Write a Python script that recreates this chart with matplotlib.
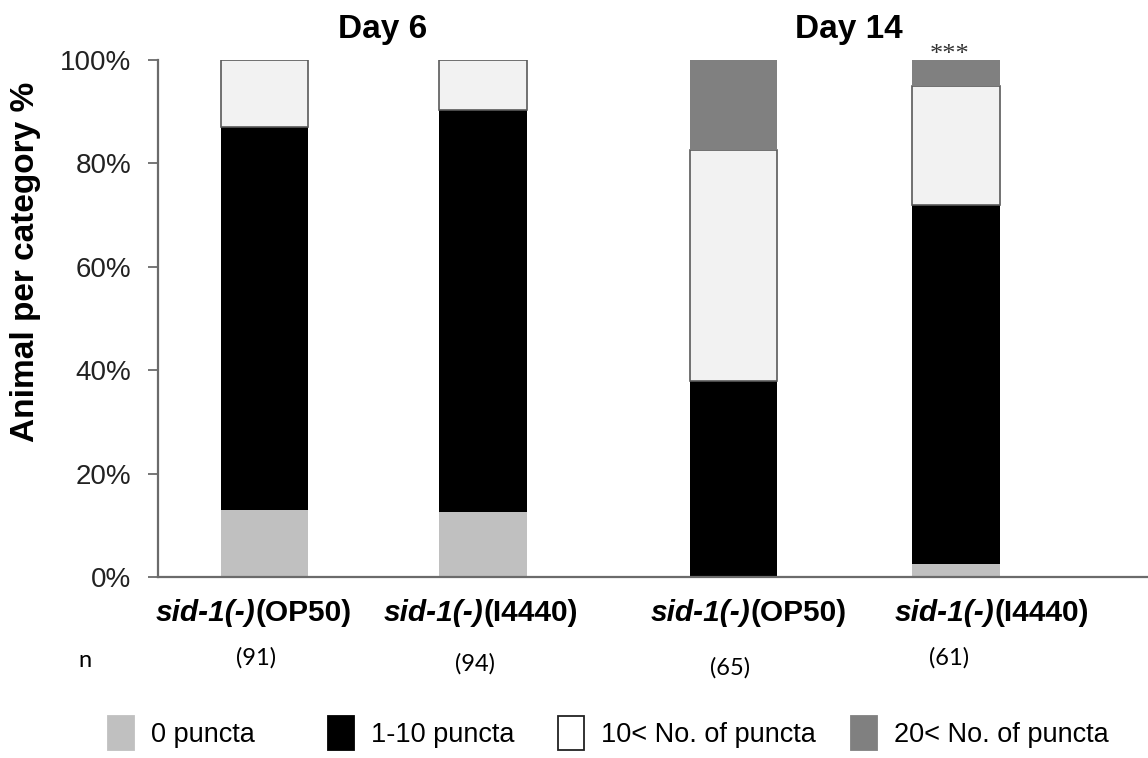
import matplotlib
matplotlib.use('Agg')
import matplotlib.pyplot as plt
import matplotlib.transforms as mtrans
from matplotlib.patches import Patch
import numpy as np

# --- données ---
days = ['Day 6', 'Day 14']
genotype = 'sid-1(-)'
strains = ['(OP50)', '(I4440)', '(OP50)', '(I4440)']
n_animals = ['(91)', '(94)', '(65)', '(61)']

zero_puncta = [13.0, 12.5, 0.0, 2.5]
low_puncta = [74.0, 77.8, 38.0, 69.5]
mid_puncta = [13.0, 9.7, 44.5, 23.0]
high_puncta = [0.0, 0.0, 17.5, 5.0]

categories = ['0 puncta', '1-10 puncta', '10< No. of puncta', '20< No. of puncta']
colors = ['#c0c0c0', '#000000', '#f2f2f2', '#808080']
edges = ['none', 'none', '#5a5a5a', 'none']

plt.rcParams['font.family'] = ['Liberation Sans', 'DejaVu Sans']

W, H = 1148, 758
fig = plt.figure(figsize=(W / 100, H / 100), dpi=100)
ax = fig.add_axes([158 / W, 181 / H, 990 / W, 517 / H])

x = np.array([0, 1, 2.15, 3.17])
width = 0.4
series = [zero_puncta, low_puncta, mid_puncta, high_puncta]
bottom = np.zeros(4)
for vals, col, ec, lab in zip(series, colors, edges, categories):
    vals = np.array(vals)
    ax.bar(x, vals, width, bottom=bottom, color=col, edgecolor=ec,
           linewidth=1.2, label=lab, zorder=2)
    bottom += vals

ax.set_xlim(-0.49, 4.05)
ax.set_ylim(0, 100)
ax.set_yticks([0, 20, 40, 60, 80, 100])
ax.set_yticklabels(['0%', '20%', '40%', '60%', '80%', '100%'], fontsize=20, color='#222222')
ax.tick_params(axis='y', direction='out', length=7, width=1.3, color='#6b6b6b', pad=12)
ax.set_xticks([])
for s in ['top', 'right']:
    ax.spines[s].set_visible(False)
for s in ['left', 'bottom']:
    ax.spines[s].set_color('#6b6b6b')
    ax.spines[s].set_linewidth(1.6)

ax.set_ylabel('Animal per category %', fontsize=24, fontweight='bold')
ax.yaxis.set_label_coords(-0.118, 0.61)

# titres des groupes
ax.text(0.54, 105.9, days[0], ha='center', va='center', fontsize=24, fontweight='bold')
ax.text(2.68, 105.9, days[1], ha='center', va='center', fontsize=24, fontweight='bold')
ax.text(3.14, 101.0, '***', ha='center', va='center', fontsize=19,
        family=['Liberation Serif', 'DejaVu Serif'], color='#333333')

# étiquettes x : génotype en italique gras, souche en gras droit
fig.canvas.draw()
renderer = fig.canvas.get_renderer()
label_x = x + np.array([-0.05, -0.01, 0.07, 0.165])
for xi, st in zip(label_x, strains):
    t1 = ax.text(xi, -6.9, genotype, ha='right', va='center', fontsize=21.5,
                 fontweight='bold', style='italic', clip_on=False)
    t2 = ax.text(xi, -6.9, st, ha='left', va='center', fontsize=21.5,
                 fontweight='bold', clip_on=False)
    w1 = t1.get_window_extent(renderer).width
    w2 = t2.get_window_extent(renderer).width
    shift = (w1 - w2) / 2.0
    for t in (t1, t2):
        t.set_transform(mtrans.offset_copy(ax.transData, fig=fig, x=shift, y=0, units='dots'))

# effectifs
n_x = [-0.04, 0.963, 2.133, 3.138]
n_y = [-15.6, -16.8, -17.5, -15.6]
for xi, yi, n in zip(n_x, n_y, n_animals):
    ax.text(xi, yi, n, ha='center', va='center', fontsize=17,
            family=['Lato', 'DejaVu Sans'], clip_on=False)
ax.text(-0.826, -16.2, 'n', ha='center', va='center', fontsize=17,
        family=['Lato', 'DejaVu Sans'], clip_on=False)

# légende : une entrée par boîte pour garder les écarts de l'original
leg_faces = ['#c0c0c0', '#000000', '#ffffff', '#808080']
leg_edges = ['#c0c0c0', '#000000', '#222222', '#808080']
leg_left = [108, 328, 558, 851]
for fc, ec, lab, lx in zip(leg_faces, leg_edges, categories, leg_left):
    h = Patch(facecolor=fc, edgecolor=ec, linewidth=1.3)
    fig.legend([h], [lab], loc='center left', bbox_to_anchor=(lx / W, 0.033),
               frameon=False, prop={'size': 19.5}, borderpad=0, borderaxespad=0,
               handlelength=0.95, handleheight=1.5, handletextpad=0.65)

plt.savefig('out.png', dpi=100)
